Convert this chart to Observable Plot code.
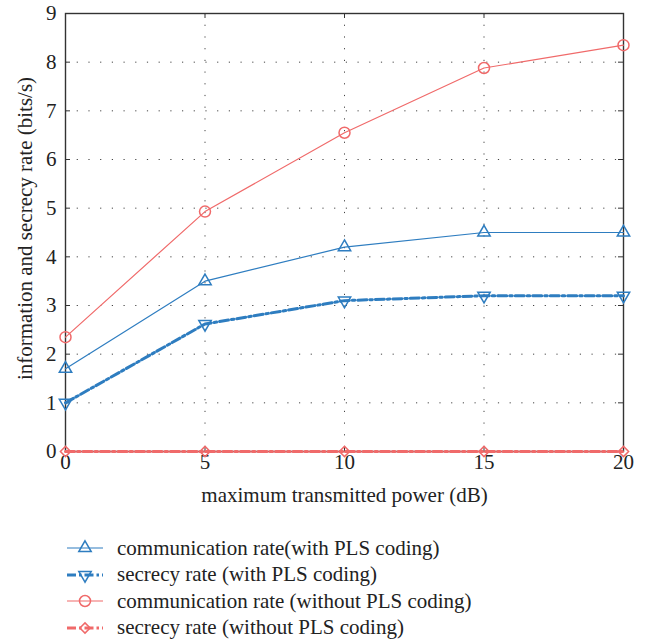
<!DOCTYPE html>
<html>
<head>
<meta charset="utf-8">
<script src="https://cdn.jsdelivr.net/npm/d3@7"></script>
<script src="https://cdn.jsdelivr.net/npm/@observablehq/plot@0.6"></script>
<style>
  body { margin: 0; background: #fff; font-family: "Liberation Serif", "DejaVu Serif", serif; }
  #chart svg { display: block; }
  #legend { margin-top: 15px; }
  .row { display: flex; align-items: center; height: 26.5px; font-size: 21px; color: #222; }
  .row svg { margin-left: 62px; width: 55px; height: 22px; display: block; }
</style>
</head>
<body>
<div id="chart"></div>
<div id="legend"></div>
<script>
const powers = [0, 5, 10, 15, 20];
const commWith = [1.7, 3.5, 4.2, 4.5, 4.5];
const secWith = [1.0, 2.62, 3.1, 3.2, 3.2];
const commWithout = [2.35, 4.93, 6.55, 7.88, 8.35];
const secWithout = [0, 0, 0, 0, 0];
const xTicks = [0, 5, 10, 15, 20];
const yTicks = [0, 1, 2, 3, 4, 5, 6, 7, 8, 9];
const seriesNames = [
  "communication rate(with PLS coding)",
  "secrecy rate (with PLS coding)",
  "communication rate (without PLS coding)",
  "secrecy rate (without PLS coding)"
];
const xLabel = "maximum transmitted power (dB)";
const yLabel = "information and secrecy rate (bits/s)";

const BLUE = "#2e7dc0";
const RED = "#f06a6a";
const DASHDOT = "9,3,2.5,3";

const styles = [
  {stroke: BLUE, strokeWidth: 1.2, dash: null, symbol: "triangle", r: 4.6, rotate: 0},
  {stroke: BLUE, strokeWidth: 3, dash: DASHDOT, symbol: "triangle", r: 4.6, rotate: 180},
  {stroke: RED, strokeWidth: 1.2, dash: null, symbol: "circle", r: 5.5, rotate: 0},
  {stroke: RED, strokeWidth: 3, dash: DASHDOT, symbol: "diamond2", r: 4.6, rotate: 0}
];
const values = [commWith, secWith, commWithout, secWithout];
const series = values.map((vals, i) => powers.map((p, j) => ({x: p, y: vals[j], s: seriesNames[i]})));

const W = 647, H = 520;
const mL = 65, mR = 24, mT = 13, mB = 69;
const plotW = W - mL - mR, plotH = H - mT - mB;
const font = "'Liberation Serif', 'DejaVu Serif', serif";
const FS = 21;

const marks = [
  Plot.gridX(xTicks.slice(1, -1), {stroke: "#444", strokeOpacity: 1, strokeWidth: 1, strokeDasharray: "1.2,10.5"}),
  Plot.gridY(yTicks.slice(1, -1), {stroke: "#444", strokeOpacity: 1, strokeWidth: 1, strokeDasharray: "1.2,10.5"}),
  Plot.tickX(xTicks, {x: d => d, insetTop: plotH - 5, stroke: "#333"}),
  Plot.tickX(xTicks, {x: d => d, insetBottom: plotH - 5, stroke: "#333"}),
  Plot.tickY(yTicks, {y: d => d, insetRight: plotW - 5, stroke: "#333"}),
  Plot.tickY(yTicks, {y: d => d, insetLeft: plotW - 5, stroke: "#333"}),
  Plot.frame({stroke: "#333", strokeWidth: 1.4}),
  Plot.axisX({ticks: xTicks, tickSize: 0, tickPadding: 3, label: null, fontSize: FS, tickFormat: d => String(d), fill: "#222"}),
  Plot.axisY({ticks: yTicks, tickSize: 0, tickPadding: 9, label: null, fontSize: FS, tickFormat: d => String(d), fill: "#222"}),
  Plot.text([xLabel], {frameAnchor: "bottom", textAnchor: "middle", dy: 44, fontSize: FS, fill: "#222", lineAnchor: "middle"}),
  Plot.text([yLabel], {frameAnchor: "left", textAnchor: "middle", dx: -40, dy: -4, rotate: -90, fontSize: FS, fill: "#222", lineAnchor: "middle"})
];
series.forEach((data, i) => {
  const st = styles[i];
  marks.push(Plot.line(data, {x: "x", y: "y", stroke: st.stroke, strokeWidth: st.strokeWidth, strokeDasharray: st.dash}));
});
series.forEach((data, i) => {
  const st = styles[i];
  marks.push(Plot.dot(data, {x: "x", y: "y", symbol: st.symbol, r: st.r, rotate: st.rotate, stroke: st.stroke, strokeWidth: 1.5, fill: "none"}));
});

const chart = Plot.plot({
  width: W, height: H,
  marginLeft: mL, marginRight: mR, marginTop: mT, marginBottom: mB,
  style: {fontFamily: font, fontSize: FS + "px", background: "#fff"},
  x: {domain: [0, 20]},
  y: {domain: [0, 9]},
  marks
});
document.getElementById("chart").appendChild(chart);

// Legend
const legend = document.getElementById("legend");
seriesNames.forEach((name, i) => {
  const st = styles[i];
  const row = document.createElement("div");
  row.className = "row";
  const sym = d3.symbol().type({triangle: d3.symbolTriangle, circle: d3.symbolCircle, diamond2: d3.symbolDiamond2}[st.symbol]).size(Math.PI * st.r * st.r)();
  row.innerHTML =
    `<svg viewBox="0 0 55 22"><line x1="5" x2="41" y1="11" y2="11" stroke="${st.stroke}" stroke-width="${st.strokeWidth}" ${st.dash ? `stroke-dasharray="${st.dash}"` : ""}/>` +
    `<path d="${sym}" transform="translate(23,11) rotate(${st.rotate})" fill="none" stroke="${st.stroke}" stroke-width="1.5"/></svg>` +
    `<span>${name}</span>`;
  legend.appendChild(row);
});
</script>
</body>
</html>
